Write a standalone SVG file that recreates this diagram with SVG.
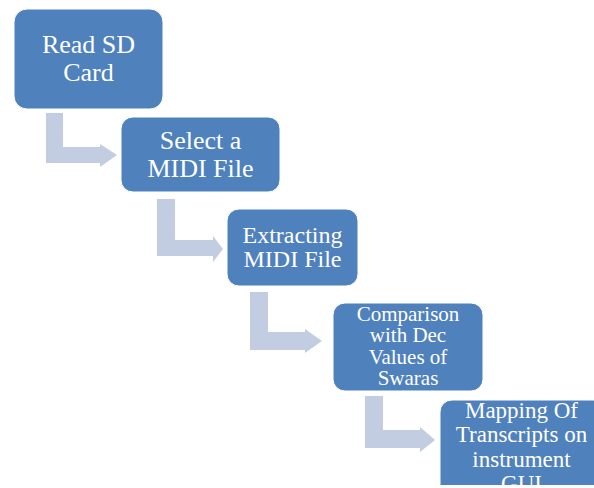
<svg xmlns="http://www.w3.org/2000/svg" width="594" height="488" viewBox="0 0 594 488">
  <style>
    .box { fill: #4f81bd; stroke: #ffffff; stroke-width: 1; }
    .lbl { fill: #ffffff; font-family: "Liberation Serif", "Times New Roman", serif; text-anchor: middle; }
    .conn { fill: #c3cde2; stroke: none; }
  </style>
  <defs>
    <clipPath id="pageClip">
      <rect x="0" y="0" width="594" height="485"/>
    </clipPath>
  </defs>
  <rect width="594" height="488" fill="#ffffff"/>

  <!-- bent step connectors -->
  <g id="connectors">
    <polygon class="conn" points="46,113 63,113 63,147 100,147 100,144 117,155 100,167 100,163 46,163"/>
    <polygon class="conn" points="157,199 175,199 175,240 213,240 213,236 223,249 213,262 213,256 157,256"/>
    <polygon class="conn" points="250,292 268,292 268,332 305,332 305,329 322,341 305,353 305,350 250,350"/>
    <polygon class="conn" points="365,396 383,396 383,430 420,430 420,427 435,440 420,452 420,448 365,448"/>
  </g>

  <g id="node1">
    <rect class="box" x="14" y="9" width="149" height="100" rx="13"/>
    <text class="lbl" font-size="26" x="88.5" y="53">Read SD</text>
    <text class="lbl" font-size="26" x="88.5" y="81">Card</text>
  </g>

  <g id="node2">
    <rect class="box" x="121" y="117" width="159" height="75" rx="12"/>
    <text class="lbl" font-size="26" x="200.5" y="149">Select a</text>
    <text class="lbl" font-size="26" x="200.5" y="177">MIDI File</text>
  </g>

  <g id="node3">
    <rect class="box" x="227" y="209" width="131" height="77" rx="12"/>
    <text class="lbl" font-size="24" x="292.5" y="243">Extracting</text>
    <text class="lbl" font-size="24" x="292.5" y="267">MIDI File</text>
  </g>

  <g id="node4">
    <rect class="box" x="333" y="303" width="150" height="88" rx="12"/>
    <text class="lbl" font-size="21" x="408" y="321">Comparison</text>
    <text class="lbl" font-size="21" x="408" y="342">with Dec</text>
    <text class="lbl" font-size="21" x="408" y="364">Values of</text>
    <text class="lbl" font-size="21" x="408" y="385">Swaras</text>
  </g>

  <g id="node5" clip-path="url(#pageClip)">
    <rect class="box" x="440" y="400" width="165" height="110" rx="12"/>
    <text class="lbl" font-size="23" x="521.5" y="418">Mapping Of</text>
    <text class="lbl" font-size="23" x="521.5" y="442">Transcripts on</text>
    <text class="lbl" font-size="23" x="521.5" y="467">instrument</text>
    <text class="lbl" font-size="23" x="521.5" y="491">GUI</text>
  </g>
</svg>
